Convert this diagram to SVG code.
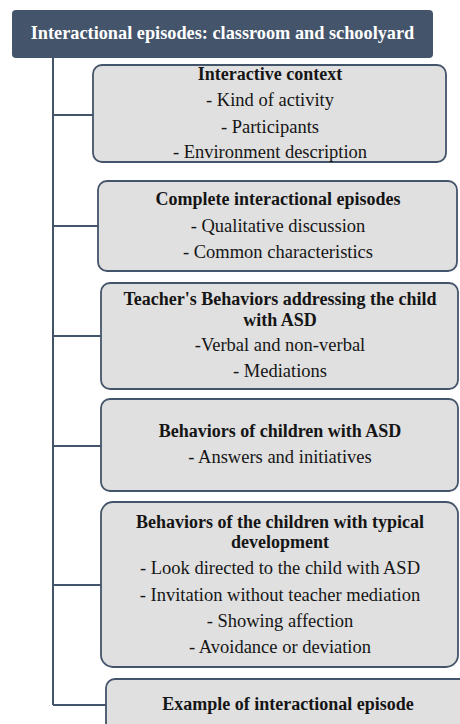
<svg xmlns="http://www.w3.org/2000/svg" width="460" height="724" viewBox="0 0 460 724">
<style>
.box{fill:#E0E0E0;stroke:#44546A;stroke-width:1.8}
text{font-family:'Liberation Serif','DejaVu Serif',serif;font-size:18.5px;fill:#151515;text-anchor:middle}
.b{font-weight:bold;font-size:18px}
.conn{stroke:#44546A;stroke-width:2;fill:none}
</style>
<rect width="460" height="724" fill="#ffffff"/>
<g id="connectors">
<path class="conn" d="M53 58 V705 M53 115 H93 M53 226 H98 M53 336 H101 M53 446 H101 M53 585 H101 M53 705 H106"/>
</g>
<g id="header">
<rect x="12" y="10" width="421" height="48" rx="4" fill="#44546A"/>
<text class="b" x="222.5" y="39" style="fill:#fff;font-size:18.3px">Interactional episodes: classroom and schoolyard</text>
</g>
<g id="n1">
<rect class="box" x="93" y="65" width="353" height="97" rx="9"/>
<text class="b" x="270" y="80">Interactive context</text>
<text x="270" y="106">- Kind of activity</text>
<text x="270" y="133">- Participants</text>
<text x="270" y="158">- Environment description</text>
</g>
<g id="n2">
<rect class="box" x="98" y="181" width="359" height="90" rx="9"/>
<text class="b" x="278" y="205">Complete interactional episodes</text>
<text x="278" y="232">- Qualitative discussion</text>
<text x="278" y="258">- Common characteristics</text>
</g>
<g id="n3">
<rect class="box" x="101" y="283" width="357" height="106" rx="9"/>
<text class="b" x="280" y="305">Teacher's Behaviors addressing the child</text>
<text class="b" x="280" y="325.5">with ASD</text>
<text x="280" y="351">-Verbal and non-verbal</text>
<text x="280" y="377">- Mediations</text>
</g>
<g id="n4">
<rect class="box" x="101" y="399" width="357" height="92" rx="9"/>
<text class="b" x="280" y="437">Behaviors of children with ASD</text>
<text x="280" y="463">- Answers and initiatives</text>
</g>
<g id="n5">
<rect class="box" x="101" y="502" width="357" height="165" rx="12"/>
<text class="b" x="280" y="528">Behaviors of the children with typical</text>
<text class="b" x="280" y="547.5">development</text>
<text x="280" y="574">- Look directed to the child with ASD</text>
<text x="280" y="601">- Invitation without teacher mediation</text>
<text x="280" y="627">- Showing affection</text>
<text x="280" y="653">- Avoidance or deviation</text>
</g>
<g id="n6">
<rect class="box" x="106" y="679" width="370" height="60" rx="9"/>
<text class="b" x="288" y="710">Example of interactional episode</text>
</g>
</svg>
